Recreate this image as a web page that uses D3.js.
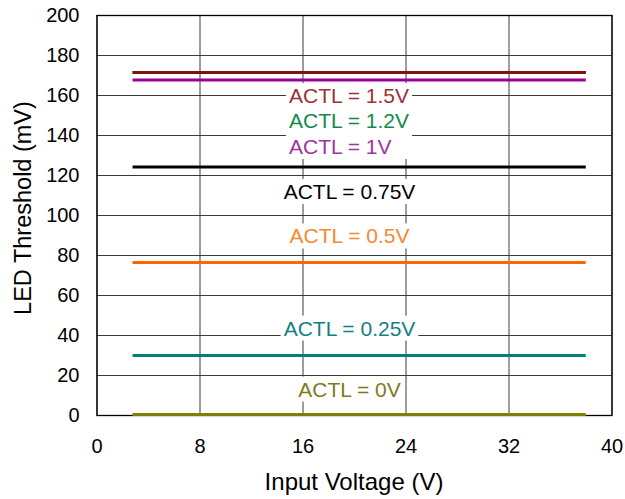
<!DOCTYPE html>
<html>
<head>
<meta charset="utf-8">
<script src="https://cdn.jsdelivr.net/npm/d3@7"></script>
<style>
  body { margin: 0; background: #fff; }
  text { font-family: "Liberation Sans", Arial, sans-serif; }
</style>
</head>
<body>
<div id="chart"></div>
<script>
"use strict";

// data
var inputV = [2.8, 6, 10, 14, 18, 22, 26, 30, 34, 38];
var seriesNames = ["ACTL = 1.2V", "ACTL = 1.5V", "ACTL = 1V", "ACTL = 0.75V", "ACTL = 0.5V", "ACTL = 0.25V", "ACTL = 0V"];
var thr12  = [171.3, 171.3, 171.3, 171.3, 171.3, 171.3, 171.3, 171.3, 171.3, 171.3];
var thr15  = [171.3, 171.3, 171.3, 171.3, 171.3, 171.3, 171.3, 171.3, 171.3, 171.3];
var thr1   = [167.5, 167.5, 167.5, 167.5, 167.5, 167.5, 167.5, 167.5, 167.5, 167.5];
var thr075 = [124, 124, 124, 124, 124, 124, 124, 124, 124, 124];
var thr05  = [76.3, 76.3, 76.3, 76.3, 76.3, 76.3, 76.3, 76.3, 76.3, 76.3];
var thr025 = [29.7, 29.7, 29.7, 29.7, 29.7, 29.7, 29.7, 29.7, 29.7, 29.7];
var thr0   = [0.2, 0.2, 0.2, 0.2, 0.2, 0.2, 0.2, 0.2, 0.2, 0.2];
var xTicks = [0, 8, 16, 24, 32, 40];
var yTicks = [0, 20, 40, 60, 80, 100, 120, 140, 160, 180, 200];

// label anchors (input voltage, mV of baseline); first three are a left-aligned block
var labelV      = [14.95, 14.95, 14.95, 19.65, 19.65, 19.65, 19.65];
var labelMV     = [143.4, 155.9, 130.5, 108, 85.8, 39.7, 9.2];
var labelAnchor = ["start", "start", "start", "middle", "middle", "middle", "middle"];
var labelGroup  = [0, 0, 0, 1, 2, 3, 4];

var lineColors  = ["#0b7a3e", "#7d1212", "#990099", "#000000", "#ff6600", "#008080", "#808000"];
var labelColors = ["#138a4a", "#993333", "#a033a0", "#000000", "#f7892f", "#117f86", "#7f7a1a"];

var allSeries = [thr12, thr15, thr1, thr075, thr05, thr025, thr0];

var margin = { top: 15, right: 13.5, bottom: 84, left: 96.5 },
    W = 625, H = 499,
    w = W - margin.left - margin.right,
    h = H - margin.top - margin.bottom;

var x = d3.scaleLinear().domain([0, 40]).range([0, w]);
var y = d3.scaleLinear().domain([0, 200]).range([h, 0]);

var svg = d3.select("#chart").append("svg")
  .attr("width", W).attr("height", H)
  .append("g")
  .attr("transform", "translate(" + margin.left + "," + margin.top + ")");

// gridlines
svg.selectAll(".hgrid").data(yTicks).enter().append("line")
  .attr("x1", 0).attr("x2", w)
  .attr("y1", function(d) { return Math.round(y(d)) + 0.5; })
  .attr("y2", function(d) { return Math.round(y(d)) + 0.5; })
  .attr("stroke", "#3a3a3a").attr("stroke-width", 1);
svg.selectAll(".vgrid").data(xTicks).enter().append("line")
  .attr("y1", 0).attr("y2", h)
  .attr("x1", function(d) { return Math.round(x(d)) + 0.5; })
  .attr("x2", function(d) { return Math.round(x(d)) + 0.5; })
  .attr("stroke", "#3a3a3a").attr("stroke-width", 1);

// labels with white boxes covering the grid (one box per label block)
var boxLayer = svg.append("g");
var labels = svg.append("g");
var boxes = {};
seriesNames.forEach(function(name, i) {
  var t = labels.append("text")
    .attr("x", x(labelV[i])).attr("y", y(labelMV[i]))
    .attr("text-anchor", labelAnchor[i])
    .style("font-size", "21px")
    .attr("fill", labelColors[i])
    .text(name);
  var b = t.node().getBBox();
  var g = labelGroup[i];
  if (!boxes[g]) {
    boxes[g] = { x0: b.x, y0: b.y, x1: b.x + b.width, y1: b.y + b.height };
  } else {
    boxes[g].x0 = Math.min(boxes[g].x0, b.x);
    boxes[g].y0 = Math.min(boxes[g].y0, b.y);
    boxes[g].x1 = Math.max(boxes[g].x1, b.x + b.width);
    boxes[g].y1 = Math.max(boxes[g].y1, b.y + b.height);
  }
});
Object.keys(boxes).forEach(function(k) {
  var bb = boxes[k];
  boxLayer.append("rect")
    .attr("x", bb.x0 - 3).attr("y", bb.y0 - 1)
    .attr("width", bb.x1 - bb.x0 + 6).attr("height", bb.y1 - bb.y0 + 2)
    .attr("fill", "#fff");
});

// plot frame
svg.append("rect")
  .attr("x", 0.5).attr("y", 0.5).attr("width", w).attr("height", h)
  .attr("fill", "none").attr("stroke", "#000").attr("stroke-width", 1.3);

// lines
var line = d3.line()
  .x(function(d, i) { return x(inputV[i]); })
  .y(function(d) { return y(d); });

allSeries.forEach(function(s, i) {
  svg.append("path")
    .datum(s)
    .attr("d", line)
    .attr("fill", "none")
    .attr("stroke", lineColors[i])
    .attr("stroke-width", 3);
});

// axes
var xAxis = d3.axisBottom(x).tickValues(xTicks).tickSize(0).tickPadding(24);
var yAxis = d3.axisLeft(y).tickValues(yTicks).tickSize(0).tickPadding(17);

svg.append("g").attr("transform", "translate(0," + h + ")").call(xAxis)
  .call(function(g) { g.select(".domain").remove(); })
  .selectAll("text").style("font-size", "20px").attr("fill", "#000");
svg.append("g").call(yAxis)
  .call(function(g) { g.select(".domain").remove(); })
  .selectAll("text").style("font-size", "20px").attr("fill", "#000");

// axis titles
svg.append("text")
  .attr("x", (263 + 445) / 2 - margin.left).attr("y", 490 - margin.top)
  .attr("text-anchor", "middle")
  .style("font-size", "24px")
  .text("Input Voltage (V)");

svg.append("text")
  .attr("transform", "translate(" + (31 - margin.left) + "," + (208 - margin.top) + ") rotate(-90)")
  .attr("text-anchor", "middle")
  .style("font-size", "23.5px")
  .text("LED Threshold (mV)");
</script>
</body>
</html>
